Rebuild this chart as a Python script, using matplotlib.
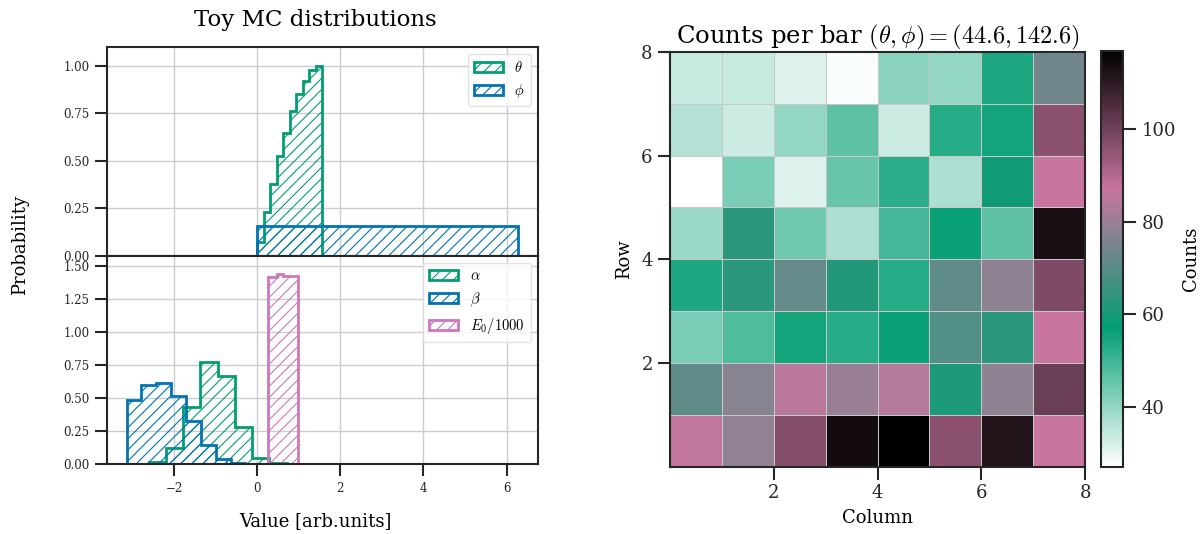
import numpy as np
import matplotlib
matplotlib.use("Agg")
import matplotlib.pyplot as plt
from matplotlib.colors import LinearSegmentedColormap

plt.rcParams["font.family"] = ["DejaVu Serif"]
plt.rcParams["mathtext.fontset"] = "cm"
plt.rcParams["axes.edgecolor"] = "#262626"
plt.rcParams["axes.linewidth"] = 1.5
plt.rcParams["hatch.linewidth"] = 0.8

GREEN = "#029e73"
BLUE = "#0173b2"
PINK = "#cc78bc"

# ── toy MC histograms (bin edges + densities) ───────────────────────
theta_edges = np.linspace(0.0, 1.571, 11)
theta_dens = [0.076, 0.231, 0.380, 0.523, 0.647, 0.761, 0.853, 0.919, 0.980, 1.000]

phi_edges = np.linspace(0.0, 6.283, 11)
phi_dens = [0.158, 0.157, 0.159, 0.160, 0.157, 0.160, 0.160, 0.157, 0.160, 0.156]

alpha_edges = np.linspace(-2.61, 0.71, 9)
alpha_dens = [0.015, 0.120, 0.430, 0.770, 0.670, 0.284, 0.050, 0.008]

beta_edges = np.linspace(-3.14, -0.28, 9)
beta_dens = [0.485, 0.600, 0.612, 0.515, 0.324, 0.146, 0.038, 0.008]

e0_edges = np.linspace(0.265, 0.995, 11)
e0_dens = [1.420, 1.420, 1.420, 1.438, 1.438, 1.425, 1.425, 1.425, 1.425, 1.425]

# ── counts per bar, row 0 (bottom) to row 7 (top) ───────────────────
counts = [
    [86, 79, 97, 114, 117, 96, 112, 87],
    [71, 77, 85, 80, 84, 61, 78, 101],
    [43, 48, 55, 53, 56, 69, 63, 87],
    [54, 63, 72, 62, 53, 71, 78, 98],
    [39, 63, 44, 37, 49, 56, 46, 113],
    [27, 43, 31, 45, 52, 37, 59, 87],
    [36, 33, 40, 46, 33, 53, 55, 96],
    [34, 34, 31, 28, 41, 40, 54, 74],
]
grid_ticks = [2, 4, 6, 8]
cbar_ticks = [40, 60, 80, 100]


def step_hist(ax, edges, dens, color, label):
    ax.hist(edges[:-1], bins=edges, weights=dens, histtype="step",
            edgecolor=color, linewidth=2.0, hatch="///", label=label)


fig = plt.figure(figsize=(12.03, 5.34), dpi=100)

ax_top = fig.add_axes([0.0889, 0.5206, 0.3583, 0.3920])
ax_bot = fig.add_axes([0.0889, 0.1305, 0.3583, 0.3901], sharex=ax_top)

step_hist(ax_top, theta_edges, theta_dens, GREEN, r"$\theta$")
step_hist(ax_top, phi_edges, phi_dens, BLUE, r"$\phi$")

step_hist(ax_bot, alpha_edges, alpha_dens, GREEN, r"$\alpha$")
step_hist(ax_bot, beta_edges, beta_dens, BLUE, r"$\beta$")
step_hist(ax_bot, e0_edges, e0_dens, PINK, r"$E_0/1000$")

ax_top.set_ylim(0, 1.1)
ax_top.set_yticks([0, 0.25, 0.5, 0.75, 1.0])
ax_bot.set_ylim(0, 1.575)
ax_bot.set_yticks([0, 0.25, 0.5, 0.75, 1.0, 1.25, 1.5])
ax_bot.set_xticks([-2, 0, 2, 4, 6])
ax_top.tick_params(labelbottom=False)

for ax in (ax_top, ax_bot):
    ax.set_axisbelow(True)
    ax.grid(True, color="#cccccc", linewidth=1.0)
    ax.tick_params(direction="out", length=8.5, width=1.5, labelsize=8.5,
                   colors="#262626", pad=4)
    ax.yaxis.set_major_formatter(matplotlib.ticker.FormatStrFormatter("%.2f"))
    ax.legend(loc="upper right", fontsize=10.5, handlelength=2.0,
              framealpha=0.8, edgecolor="#dddddd")

fig.text(0.2618, 0.951, "Toy MC distributions", ha="center", va="baseline",
         fontsize=16.5)
fig.text(0.0166, 0.541, "Probability", ha="center", va="center",
         rotation=90, fontsize=13)
fig.text(0.2618, 0.0150, "Value [arb.units]", ha="center", va="baseline",
         fontsize=13)

# ── heat map ─────────────────────────────────────────────────────────
cmap = LinearSegmentedColormap.from_list(
    "wgpk", ["white", GREEN, "#c8759f", "black"])
ax_map = fig.add_axes([0.5570, 0.1264, 0.3450, 0.7762])
mesh = ax_map.pcolormesh(np.arange(9), np.arange(9), np.array(counts),
                         cmap=cmap, edgecolors="#c8c8c8", linewidth=0.6)
ax_map.set_xticks(grid_ticks)
ax_map.set_yticks(grid_ticks)
ax_map.tick_params(direction="out", length=9, width=1.5, labelsize=13,
                   colors="#262626")
ax_map.set_xlabel("Column", fontsize=13, labelpad=5)
ax_map.set_ylabel("Row", fontsize=13, labelpad=6)
fig.text(0.7298, 0.9195, r"Counts per bar $(\theta, \phi) = (44.6, 142.6)$",
         ha="center", va="baseline", fontsize=17.5)

cax = fig.add_axes([0.9156, 0.1260, 0.0175, 0.7790])
cbar = fig.colorbar(mesh, cax=cax, ticks=cbar_ticks)
cbar.outline.set_linewidth(1.5)
cbar.ax.tick_params(direction="out", length=9, width=1.5, labelsize=13,
                    colors="#262626", pad=5)
cbar.set_label("Counts", fontsize=13, labelpad=4)

fig.savefig("out.png", dpi=100)
